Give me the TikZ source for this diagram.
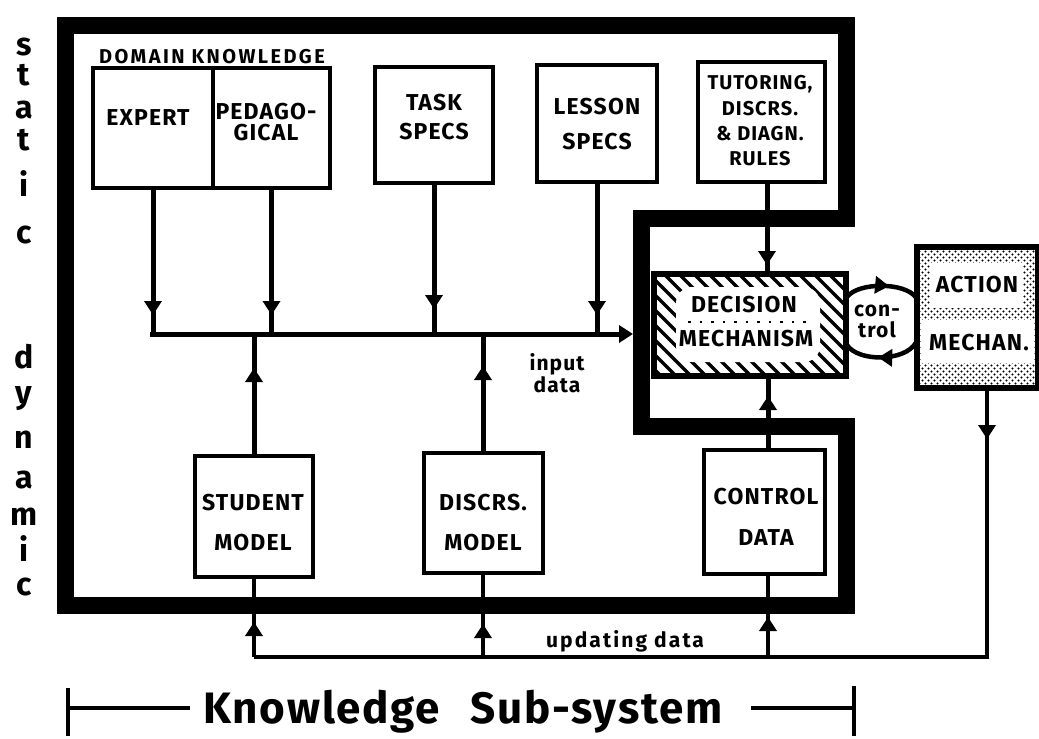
\documentclass[tikz,border=0pt]{standalone}
\usepackage{fontspec}
\setmainfont{Fira Sans}
\newfontfamily\lsfont{Fira Sans}[LetterSpace=5]
\newfontfamily\wsfont{Fira Sans}[LetterSpace=12]
\newfontfamily\ksfont{Fira Sans}[LetterSpace=4]
\newfontfamily\usfont{Fira Sans}[LetterSpace=10]
\usetikzlibrary{arrows.meta,decorations.markings,patterns,calc}
\pgfdeclarepatternformonly{mydots}{\pgfqpoint{-1pt}{-1pt}}{\pgfqpoint{7pt}{7pt}}{\pgfqpoint{6pt}{6pt}}{%
  \pgfpathcircle{\pgfqpoint{1.5pt}{1.5pt}}{1.1pt}%
  \pgfpathcircle{\pgfqpoint{4.5pt}{4.5pt}}{1.1pt}%
  \pgfusepath{fill}}
\tikzset{
  box/.style={draw, line width=4pt, inner sep=0pt},
  lbl/.style={font=\lsfont\bfseries\fontsize{23}{#1}\selectfont, align=center, inner sep=0pt},
  lbl/.default=28,
  small/.style={font=\lsfont\bfseries\fontsize{21}{#1}\selectfont, align=center, inner sep=0pt},
  small/.default=22,
  conn/.style={line width=5pt},
  tri/.tip={Triangle[width=17pt,length=14pt]},
  midarrow/.style={postaction={decorate}, decoration={markings, mark=at position #1 with {\arrow{tri}}}},
  side/.style={font=\bfseries\fontsize{32}{32}\selectfont, inner sep=0pt, anchor=base},
}
\begin{document}
\begin{tikzpicture}[x=1pt,y=-1pt]
\useasboundingbox (0,0) rectangle (1039,739);

% outer frame of the knowledge sub-system
\draw[line width=17pt, line join=miter] (65,25) -- (846,25) -- (846,218) -- (641,218) -- (641,426) -- (846,426) -- (846,605) -- (65,605) -- cycle;

% side labels
\node[side] (s1) at (24,55) {s};
\node[side] (s2) at (24,85) {t};
\node[side] (s3) at (24,118) {a};
\node[side] (s4) at (24,150) {t};
\node[side] (s5) at (24,196) {i};
\node[side] (s6) at (24,243) {c};
\node[side] (d1) at (24,368) {d};
\node[side] (d2) at (24,403) {y};
\node[side] (d3) at (24,448) {n};
\node[side] (d4) at (24,488) {a};
\node[side] (d5) at (24,525) {m};
\node[side] (d6) at (24,561) {i};
\node[side] (d7) at (24,595) {c};

% static boxes
\node[font=\wsfont\bfseries\fontsize{20}{24}\selectfont, inner sep=0pt] (domT) at (212,57) {DOMAIN KNOWLEDGE};
\node[box, minimum width=120pt, minimum height=120pt] (expert) at (153,128) {};
\node[box, minimum width=117pt, minimum height=120pt] (ped) at (271.5,128) {};
\node[box, minimum width=118pt, minimum height=116pt] (task) at (434,125) {};
\node[box, minimum width=120pt, minimum height=117pt] (lesson) at (597,123.5) {};
\node[box, minimum width=127pt, minimum height=120pt] (tutor) at (761.5,122) {};
\node[lbl] (expertT) at (148,118) {EXPERT};
\node[lbl=21] (pedT) at (266,122) {PEDAGO-\\GICAL};
\node[lbl=29] (taskT) at (434,117.5) {TASK\\SPECS};
\node[lbl=35] (lessonT) at (597,124.5) {LESSON\\SPECS};
\node[font=\lsfont\bfseries\fontsize{20}{25.3}\selectfont, align=center, inner sep=0pt] (tutorT) at (760,121) {TUTORING,\\DISCRS.\\\& DIAGN.\\RULES};

% dynamic boxes
\node[box, minimum width=118pt, minimum height=121pt] (student) at (254,516.5) {};
\node[box, minimum width=119pt, minimum height=120pt] (discrs) at (483,513) {};
\node[box, minimum width=121pt, minimum height=124pt] (control) at (764,512) {};
\node[lbl=40] (studentT) at (253,523) {STUDENT\\MODEL};
\node[lbl=40] (discrsT) at (483,523) {DISCRS.\\MODEL};
\node[lbl=41] (controlT) at (766,517) {CONTROL\\DATA};

% decision mechanism (hatched)
\node[box, minimum width=190pt, minimum height=100pt] (decision) at (750,325) {};
\begin{scope}
  \clip (decision.south west) rectangle (decision.north east);
  \foreach \i in {0,...,22} {
    \draw[line width=3.5pt] (535+15*\i,265) -- ++(115,115);
  }
\end{scope}
\fill[white, rounded corners=16pt] (676,287) rectangle (820,362);
\draw[line width=2.5pt, dash pattern=on 2.5pt off 9pt] (688,322) -- (814,322);
\draw[line width=4pt] (decision.south west) rectangle (decision.north east);
\node[lbl] (decT1) at (744,305) {DECISION};
\node[lbl] (decT2) at (746,339) {MECHANISM};

% action mechanism (dotted)
\node[box, minimum width=119pt, minimum height=139pt] (action) at (977.5,317.5) {};
\fill[pattern=mydots] (action.south west) rectangle (action.north east);
\fill[white] (930,263) rectangle (1023,308);
\fill[white] (921,320) rectangle (1034,363);
\draw[line width=4pt] (action.south west) rectangle (action.north east);
\node[lbl] (actT1) at (977,285) {ACTION};
\node[lbl] (actT2) at (979,343) {MECHAN.};

% control loop
\node[small=21] (ctrlT) at (877,321) {con-\\trol};
\draw[line width=4.5pt, midarrow=0.6] ($(decision.east)+(0,-28)$) .. controls (858,282) and (905,282) .. ($(action.west)+(0,-20)$);
\draw[line width=4.5pt, midarrow=0.55] ($(action.west)+(0,25)$) .. controls (905,362) and (858,362) .. ($(decision.east)+(0,20)$);

% input data bus
\coordinate (busL) at (150,334);
\coordinate (busR) at (633,334);
\draw[conn, -{tri}] (busL) -- (busR);
\draw[conn, midarrow=125pt] (expert.south) -- (expert.south |- busL);
\draw[conn, midarrow=125pt] (ped.south) -- (ped.south |- busL);
\draw[conn, midarrow=124pt] (task.south) -- (task.south |- busL);
\draw[conn, midarrow=131pt] (lesson.south) -- (lesson.south |- busL);
\draw[conn, midarrow=86pt] (student.north) -- (student.north |- busL);
\draw[conn, midarrow=85pt] (discrs.north) -- (discrs.north |- busL);
\node[small] (inputT) at (557,373) {input\\data};

% tutoring rules and control data to decision
\coordinate (tX) at (767,0);
\draw[conn, midarrow=81pt] (tX |- tutor.south) -- (tX |- decision.north);
\coordinate (cX) at (768,0);
\draw[conn, midarrow=52pt] (cX |- control.north) -- (cX |- decision.south);

% updating data
\coordinate (upd) at (0,657);
\coordinate (aX) at (987,0);
\draw[line width=4.5pt, midarrow=50pt, line join=miter] (aX |- action.south) -- (aX |- upd) -- (student.south |- upd);
\draw[line width=4.5pt, midarrow=35pt] (student.south |- upd) -- (student.south);
\draw[line width=4.5pt, midarrow=33pt] (discrs.south |- upd) -- (discrs.south);
\draw[line width=4.5pt, midarrow=40pt] (cX |- upd) -- (cX |- control.south);
\node[font=\usfont\bfseries\fontsize{21}{22}\selectfont, inner sep=0pt] (updT) at (625,641) {updating data};

% knowledge sub-system extent
\coordinate (kL) at (68,708);
\coordinate (kLe) at (190,708);
\coordinate (kR) at (854,708);
\coordinate (kRs) at (751,708);
\draw[line width=3.5pt] ($(kL)+(0,-20)$) -- ($(kL)+(0,28)$);
\draw[line width=3.5pt] (kL) -- (kLe);
\draw[line width=3.5pt] (kRs) -- (kR);
\draw[line width=3.5pt] ($(kR)+(0,-22)$) -- ($(kR)+(0,28)$);
\node[font=\ksfont\bfseries\fontsize{44}{44}\selectfont, inner sep=0pt, anchor=base west] (kT) at (203,723) {Knowledge\hspace{30pt}Sub-system};
\end{tikzpicture}
\end{document}
